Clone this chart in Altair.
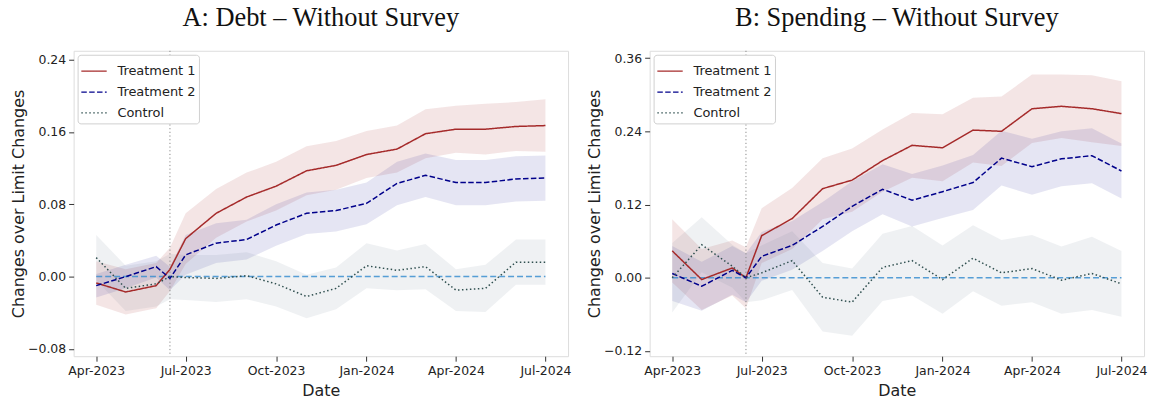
import altair as alt
import pandas as pd

# ---------------- data ----------------
dates = ["2023-04-01", "2023-05-01", "2023-06-01", "2023-06-15", "2023-07-01",
         "2023-08-01", "2023-09-01", "2023-10-01", "2023-11-01", "2023-12-01",
         "2024-01-01", "2024-02-01", "2024-03-01", "2024-04-01", "2024-05-01",
         "2024-06-01", "2024-07-01"]
event_date = "2023-06-15"
series_names = ["Treatment 1", "Treatment 2", "Control"]

# Panel A: Debt
debt_t1 = [-0.007, -0.017, -0.010, 0.008, 0.042, 0.070, 0.088, 0.100, 0.117, 0.123,
           0.135, 0.141, 0.158, 0.163, 0.163, 0.166, 0.167]
debt_t1_half = [0.024, 0.025, 0.025, 0.024, 0.028, 0.027, 0.027, 0.027, 0.027, 0.027,
                0.026, 0.026, 0.027, 0.026, 0.028, 0.027, 0.029]
debt_t2 = [-0.010, 0.000, 0.011, -0.002, 0.024, 0.037, 0.041, 0.057, 0.070, 0.073,
           0.081, 0.103, 0.112, 0.104, 0.104, 0.108, 0.109]
debt_t2_half = [0.013, 0.013, 0.012, 0.013, 0.022, 0.022, 0.022, 0.023, 0.023, 0.023,
                0.023, 0.024, 0.024, 0.025, 0.025, 0.025, 0.025]
debt_c = [0.021, -0.013, -0.008, 0.000, -0.001, -0.002, 0.001, -0.008, -0.022, -0.013,
          0.012, 0.007, 0.011, -0.015, -0.013, 0.016, 0.016]
debt_c_half = [0.025, 0.025, 0.025, 0.025, 0.025, 0.026, 0.026, 0.025, 0.024, 0.023,
               0.025, 0.022, 0.025, 0.023, 0.026, 0.025, 0.025]

# Panel B: Spending
spend_t1 = [0.044, -0.003, 0.016, 0.000, 0.069, 0.097, 0.146, 0.160, 0.192, 0.217,
            0.213, 0.242, 0.240, 0.277, 0.281, 0.277, 0.269]
spend_t1_half = [0.052, 0.050, 0.045, 0.050, 0.045, 0.050, 0.050, 0.052, 0.051, 0.053,
                 0.055, 0.053, 0.057, 0.056, 0.052, 0.055, 0.053]
spend_t2 = [0.007, -0.014, 0.012, 0.000, 0.035, 0.053, 0.084, 0.117, 0.145, 0.127,
            0.141, 0.156, 0.196, 0.182, 0.195, 0.200, 0.175]
spend_t2_half = [0.045, 0.040, 0.040, 0.040, 0.040, 0.040, 0.040, 0.041, 0.041, 0.043,
                 0.043, 0.045, 0.045, 0.046, 0.045, 0.045, 0.045]
spend_c = [0.000, 0.054, 0.019, 0.000, 0.008, 0.028, -0.032, -0.040, 0.017, 0.028,
           -0.003, 0.032, 0.008, 0.015, -0.004, 0.007, -0.010]
spend_c_half = [0.057, 0.045, 0.035, 0.040, 0.045, 0.048, 0.056, 0.055, 0.055, 0.057,
                0.056, 0.054, 0.054, 0.055, 0.055, 0.060, 0.054]

debt_ticks = [-0.08, 0.0, 0.08, 0.16, 0.24]
debt_domain = [-0.088, 0.2497]
spend_ticks = [-0.12, 0.0, 0.12, 0.24, 0.36]
spend_domain = [-0.1286, 0.372]

x_tick_dates = [(2023, 4), (2023, 7), (2023, 10), (2024, 1), (2024, 4), (2024, 7)]

# ---------------- styling ----------------
line_colors = ["#a52a2a", "#00008b", "#2f4f4f"]
band_colors = ["#a52a2a", "#00008b", "#708090"]
dashes = [[1, 0], [5.5, 2.4], [1.5, 2.5]]
band_opacity = [0.12, 0.10, 0.11]
SANS = "DejaVu Sans"


def long_frame(vals, halves):
    rows = []
    for name, v, h in zip(series_names, vals, halves):
        for d, y, e in zip(dates, v, h):
            rows.append({"date": d, "series": name, "value": y, "lo": y - e, "hi": y + e})
    return pd.DataFrame(rows)


def panel(df, title, ydom, yticks):
    xscale = alt.Scale(type="utc",
                       domain=[alt.DateTime(year=2023, month=3, date=9, utc=True),
                               alt.DateTime(year=2024, month=7, date=24, utc=True)])
    xaxis = alt.Axis(values=[alt.DateTime(year=y, month=m, date=1, utc=True) for y, m in x_tick_dates],
                     format="%b-%Y", title="Date", grid=False, domain=False,
                     tickSize=5, tickColor="#333", labelPadding=3, titlePadding=6,
                     labelFont=SANS, labelFontSize=12.5, labelColor="#222",
                     titleFont=SANS, titleFontSize=16, titleFontWeight="normal", titleColor="#222")
    yscale = alt.Scale(domain=ydom, nice=False, zero=False)
    yaxis = alt.Axis(values=yticks, grid=False, domain=False,
                     labelExpr="replace(format(datum.value, '.2f'), '-', '\u2212')",
                     title="Changes over Limit Changes",
                     tickSize=5, tickColor="#333", labelPadding=3, titlePadding=1,
                     labelFont=SANS, labelFontSize=12.5, labelColor="#222",
                     titleFont=SANS, titleFontSize=16, titleFontWeight="normal", titleColor="#222")
    x = alt.X("date:T", scale=xscale, axis=xaxis)
    cscale = alt.Scale(domain=series_names, range=line_colors)
    dscale = alt.Scale(domain=series_names, range=dashes)

    legend = alt.Legend(orient="top-left", offset=4, title=None,
                        symbolType="stroke", symbolStrokeWidth=1.3, symbolSize=650,
                        labelFont=SANS, labelFontSize=13, labelColor="#222",
                        labelOffset=10, rowPadding=-3, padding=3,
                        strokeColor="#d0d0d0", fillColor="white", cornerRadius=3)

    layers = []
    for name, bc, op in zip(series_names, band_colors, band_opacity):
        layers.append(
            alt.Chart(df).transform_filter(alt.datum.series == name)
            .mark_area(interpolate="linear", color=bc, opacity=op).encode(
                x=x,
                y=alt.Y("lo:Q", scale=yscale, axis=yaxis),
                y2="hi:Q",
            )
        )

    vline_df = pd.DataFrame({"date": [event_date]})
    layers.append(alt.Chart(vline_df).mark_rule(color="#888", strokeWidth=1,
                                                strokeDash=[1.2, 2.5]).encode(x=x))

    zero_df = pd.DataFrame({"date": [dates[0], dates[-1]], "value": [0.0, 0.0]})
    layers.append(alt.Chart(zero_df).mark_line(color="#3b8fd0", opacity=0.85, strokeWidth=1.5,
                                               strokeDash=[6, 3]).encode(
        x=x, y=alt.Y("value:Q", scale=yscale, axis=yaxis)))

    layers.append(alt.Chart(df).mark_line(strokeWidth=1.5).encode(
        x=x,
        y=alt.Y("value:Q", scale=yscale, axis=yaxis),
        color=alt.Color("series:N", scale=cscale, legend=legend),
        strokeDash=alt.StrokeDash("series:N", scale=dscale, legend=legend),
    ))

    return alt.layer(*layers).properties(
        width=497, height=307,
        title=alt.TitleParams(title, font="Liberation Serif", fontSize=26.5,
                              fontWeight="normal", color="#111", anchor="middle", offset=18.5),
    )


left = panel(long_frame([debt_t1, debt_t2, debt_c], [debt_t1_half, debt_t2_half, debt_c_half]),
             "A: Debt \u2013 Without Survey", debt_domain, debt_ticks)
right = panel(long_frame([spend_t1, spend_t2, spend_c], [spend_t1_half, spend_t2_half, spend_c_half]),
              "B: Spending \u2013 Without Survey", spend_domain, spend_ticks)

chart = alt.hconcat(left, right, spacing=14).resolve_scale(
    x="independent", y="independent", color="independent", strokeDash="independent"
).properties(
    padding={"left": 10, "top": 4, "right": 8, "bottom": 1}
).configure_view(stroke="#444", strokeWidth=1).configure(background="white")

chart.save("out.html", embed_options={"renderer": "svg", "actions": False})
